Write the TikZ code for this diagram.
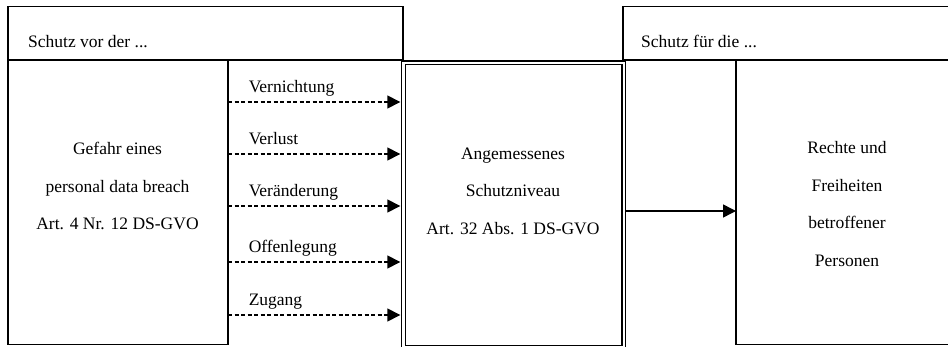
\documentclass[tikz,border=0pt]{standalone}
\usepackage{fontspec}
\setmainfont{Liberation Serif}
\usetikzlibrary{arrows.meta}
\begin{document}
\begin{tikzpicture}[x=1pt,y=-1pt,
 box/.style={draw, line width=1.3pt, inner sep=0pt, outer sep=0pt},
 dbox/.style={draw, double, double distance=2.4pt, line width=1.3pt, inner sep=0pt, outer sep=0pt},
 txt/.style={align=center, font=\fontsize{17.5}{37.5}\selectfont, inner sep=0pt},
 lbl/.style={anchor=base west, font=\fontsize{17.5}{20}\selectfont, inner sep=0pt},
 dasharrow/.style={dash pattern=on 4pt off 2.5pt, line width=1.5pt, -{Triangle[length=13pt,width=13pt]}, shorten >=3pt},
 solidarrow/.style={line width=1.5pt, -{Triangle[length=13pt,width=13pt]}}]
\useasboundingbox (0,0) rectangle (948,347);
\clip (0,0) rectangle (948,347);
% boxes
\node[box, minimum width=395pt, minimum height=53.5pt] (lt) at (205.5,33.25) {};
\node[box, minimum width=220pt, minimum height=284.5pt] (lb) at (118,202.25) {};
\node[dbox, minimum width=220.4pt, minimum height=284.5pt] (cb) at (513.5,205.25) {};
\node[box, minimum width=337pt, minimum height=53.5pt] (rt) at (791.5,33.25) {};
\node[box, minimum width=224pt, minimum height=284.5pt] (rb) at (848,202.25) {};
% texts
\node[lbl] (ltt) at (28,47.7) {Schutz vor der ...};
\node[lbl] (rtt) at (641,47.7) {Schutz für die ...};
\node[txt] (lbt) at (117.5,186) {Gefahr eines\\personal data breach\\Art. 4 Nr. 12 DS-GVO};
\node[txt] (cbt) at (513,191) {Angemessenes\\Schutzniveau\\Art. 32 Abs. 1 DS-GVO};
\node[txt] (rbt) at (847,204) {Rechte und\\Freiheiten\\betroffener\\Personen};
% connectors
\coordinate (y1) at (0,102);
\coordinate (y2) at (0,154);
\coordinate (y3) at (0,206);
\coordinate (y4) at (0,262);
\coordinate (y5) at (0,315);
\coordinate (y6) at (0,211);
\draw[dasharrow] (lb.east |- y1) -- (cb.west |- y1) node[lbl, pos=0, xshift=20pt, yshift=9pt] (l1) {Vernichtung};
\draw[dasharrow] (lb.east |- y2) -- (cb.west |- y2) node[lbl, pos=0, xshift=20pt, yshift=9pt] (l2) {Verlust};
\draw[dasharrow] (lb.east |- y3) -- (cb.west |- y3) node[lbl, pos=0, xshift=20pt, yshift=9pt] (l3) {Veränderung};
\draw[dasharrow] (lb.east |- y4) -- (cb.west |- y4) node[lbl, pos=0, xshift=20pt, yshift=9pt] (l4) {Offenlegung};
\draw[dasharrow] (lb.east |- y5) -- (cb.west |- y5) node[lbl, pos=0, xshift=20pt, yshift=9pt] (l5) {Zugang};
\draw[solidarrow] ([xshift=2.5pt]cb.east |- y6) -- (rb.west |- y6);
\end{tikzpicture}
\end{document}
